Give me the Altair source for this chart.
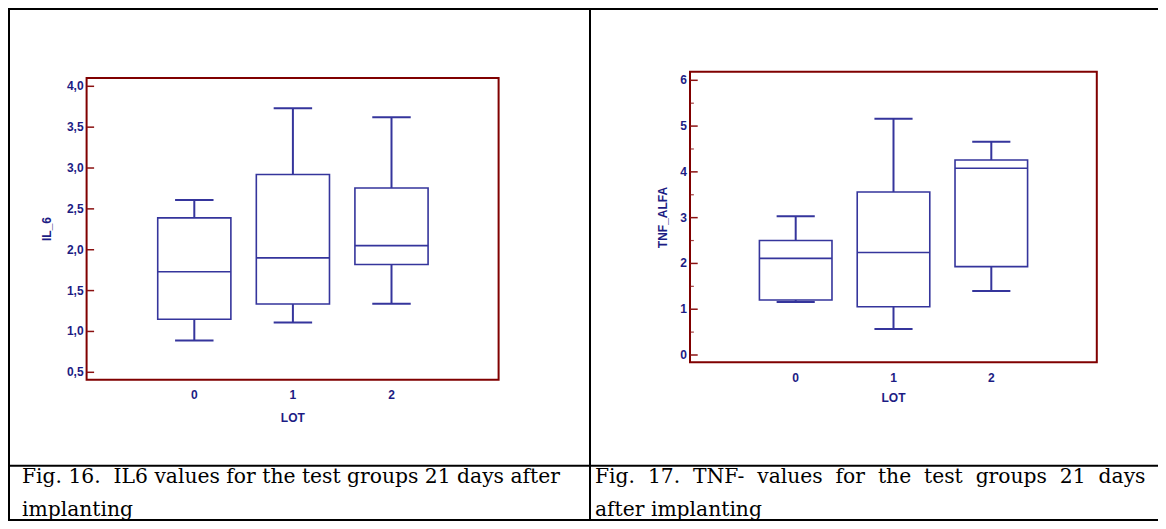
import altair as alt
import pandas as pd

# ---------------- data ----------------
LOTS = [0, 1, 2]

IL6_LOW = [0.89, 1.11, 1.34]
IL6_Q1 = [1.15, 1.335, 1.82]
IL6_MED = [1.73, 1.90, 2.05]
IL6_Q3 = [2.39, 2.92, 2.755]
IL6_HIGH = [2.61, 3.73, 3.62]

TNF_LOW = [1.16, 0.57, 1.40]
TNF_Q1 = [1.20, 1.055, 1.93]
TNF_MED = [2.11, 2.24, 4.08]
TNF_Q3 = [2.50, 3.56, 4.26]
TNF_HIGH = [3.03, 5.16, 4.66]

IL6_TICKS = [0.5, 1.0, 1.5, 2.0, 2.5, 3.0, 3.5, 4.0]
IL6_TICK_LABELS = ["0,5", "1,0", "1,5", "2,0", "2,5", "3,0", "3,5", "4,0"]
IL6_MINOR = []
TNF_TICKS = [0, 1, 2, 3, 4, 5, 6]
TNF_TICK_LABELS = ["0", "1", "2", "3", "4", "5", "6"]
TNF_MINOR = [0.5, 1.5, 2.5, 3.5, 4.5, 5.5]

X_TITLE = "LOT"
Y_TITLE_A = "IL_6"
Y_TITLE_B = "TNF_ALFA"

CAPTION_A = ["Fig. 16.\u00a0 IL6 values for the test groups 21 days after", "implanting"]
CAPTION_B = ["\u00a0 ".join("Fig. 17. TNF- values for the test groups 21 days".split(" ")),
             "after implanting"]

# ---------------- styling ----------------
BOX = "#35359c"
TXT = "#1c1c84"
FRAME = "#800000"
TICK = "#8a1010"
SANS = "Liberation Sans"
SERIF = "DejaVu Serif"
BOX_HALF = 0.371
CAP_HALF = 0.195

W, H = 1150, 513


def one():
    return alt.Data(values=[{"k": 0}])


def panel(lo, q1, med, q3, hi, ticks, tick_labels, minor, ydom, yrng, xrng,
          frame, ytitle, ytitle_pos, lot_pos, xlab_y, tick_len):
    df = pd.DataFrame({"lot": LOTS, "lo": lo, "q1": q1, "med": med, "q3": q3, "hi": hi})
    xs = alt.Scale(domain=[0, 2], range=xrng, nice=False, zero=False)
    ys = alt.Scale(domain=ydom, range=yrng, nice=False, zero=False)

    def X(f):
        return alt.X(f, type="quantitative", scale=xs, axis=None)

    def Y(f):
        return alt.Y(f, type="quantitative", scale=ys, axis=None)

    base = alt.Chart(df).transform_calculate(
        bl=f"datum.lot - {BOX_HALF}", br=f"datum.lot + {BOX_HALF}",
        cl=f"datum.lot - {CAP_HALF}", cr=f"datum.lot + {CAP_HALF}")

    w_lo = base.mark_rule(color=BOX, strokeWidth=2).encode(x=X("lot"), y=Y("lo"), y2=alt.Y2("q1"))
    w_hi = base.mark_rule(color=BOX, strokeWidth=2).encode(x=X("lot"), y=Y("q3"), y2=alt.Y2("hi"))
    c_lo = base.mark_rule(color=BOX, strokeWidth=2).encode(x=X("cl"), x2=alt.X2("cr"), y=Y("lo"))
    c_hi = base.mark_rule(color=BOX, strokeWidth=2).encode(x=X("cl"), x2=alt.X2("cr"), y=Y("hi"))
    box = base.mark_rect(fillOpacity=0, stroke=BOX, strokeWidth=1.6).encode(
        x=X("bl"), x2=alt.X2("br"), y=Y("q1"), y2=alt.Y2("q3"))
    med_l = base.mark_rule(color=BOX, strokeWidth=1.6).encode(x=X("bl"), x2=alt.X2("br"), y=Y("med"))

    fl, fr, ft, fb = frame
    tdf = pd.DataFrame({"v": ticks, "lab": tick_labels})
    tk = alt.Chart(tdf).mark_rule(color=TICK, strokeWidth=1.5).encode(
        y=Y("v"), x=alt.value(fl), x2=alt.value(fl + tick_len))
    tl = alt.Chart(tdf).mark_text(align="right", baseline="middle", font=SANS, fontSize=12,
                                  fontWeight="bold", color=TXT).encode(
        y=Y("v"), x=alt.value(fl - 3), text="lab:N")
    layers = [tk, tl]
    if minor:
        mdf = pd.DataFrame({"v": minor})
        layers.append(alt.Chart(mdf).mark_rule(color=TICK, strokeWidth=1.2, opacity=0.8).encode(
            y=Y("v"), x=alt.value(fl), x2=alt.value(fl + tick_len / 2)))

    xl = alt.Chart(pd.DataFrame({"lot": LOTS})).mark_text(
        align="center", baseline="alphabetic", font=SANS, fontSize=12, fontWeight="bold",
        color=TXT).encode(x=X("lot"), y=alt.value(xlab_y), text="lot:N")

    fr_rect = alt.Chart(one()).mark_rect(fillOpacity=0, stroke=FRAME, strokeWidth=2).encode(
        x=alt.value(fl), x2=alt.value(fr), y=alt.value(ft), y2=alt.value(fb))

    yt = alt.Chart(one()).mark_text(text=ytitle, angle=270, align="center", baseline="middle",
                                    font=SANS, fontSize=12, fontWeight="bold", color=TXT).encode(
        x=alt.value(ytitle_pos[0]), y=alt.value(ytitle_pos[1]))
    xt = alt.Chart(one()).mark_text(text=X_TITLE, align="center", baseline="alphabetic",
                                    font=SANS, fontSize=12, fontWeight="bold", color=TXT).encode(
        x=alt.value(lot_pos[0]), y=alt.value(lot_pos[1]))

    return alt.layer(fr_rect, *layers, w_lo, w_hi, c_lo, c_hi, box, med_l, xl, yt, xt)


panel_a = panel(IL6_LOW, IL6_Q1, IL6_MED, IL6_Q3, IL6_HIGH, IL6_TICKS, IL6_TICK_LABELS, IL6_MINOR,
                [0.5, 4.0], [364.3, 78.3], [186.3, 383.5],
                (78.6, 490.6, 70.0, 371.7), Y_TITLE_A, (38.8, 221.0), (284.8, 413.5), 390.5, 7.5)

panel_b = panel(TNF_LOW, TNF_Q1, TNF_MED, TNF_Q3, TNF_HIGH, TNF_TICKS, TNF_TICK_LABELS, TNF_MINOR,
                [0, 6], [347.0, 72.3], [787.7, 983.3],
                (682.0, 1088.8, 63.7, 354.3), Y_TITLE_B, (655.0, 209.5), (885.5, 393.5), 373.5, 7.7)


def hline(y, x1=0, x2=W):
    return alt.Chart(one()).mark_rule(color="black", strokeWidth=2).encode(
        x=alt.value(x1), x2=alt.value(x2), y=alt.value(y))


def vline(x, y1=0, y2=H):
    return alt.Chart(one()).mark_rule(color="black", strokeWidth=2).encode(
        y=alt.value(y1), y2=alt.value(y2), x=alt.value(x))


table = [hline(1), vline(1), vline(582, 0, 512), hline(457.7), hline(512)]


def caption(text, x, y):
    return alt.Chart(one()).mark_text(text=text, align="left", baseline="alphabetic",
                                      font=SERIF, fontSize=20.3, color="black").encode(
        x=alt.value(x), y=alt.value(y))


caps = [caption(CAPTION_A[0], 14, 475.3), caption(CAPTION_A[1], 14, 507.5),
        caption(CAPTION_B[0], 587, 475.3), caption(CAPTION_B[1], 587, 507.5)]

chart = alt.layer(*table, panel_a, panel_b, *caps).resolve_scale(
    x="independent", y="independent"
).properties(
    width=W, height=H, padding=0, autosize=alt.AutoSizeParams(type="none"), background="white"
).configure_view(stroke="transparent")

chart.save("out.html", embed_options={"renderer": "svg", "actions": False})
